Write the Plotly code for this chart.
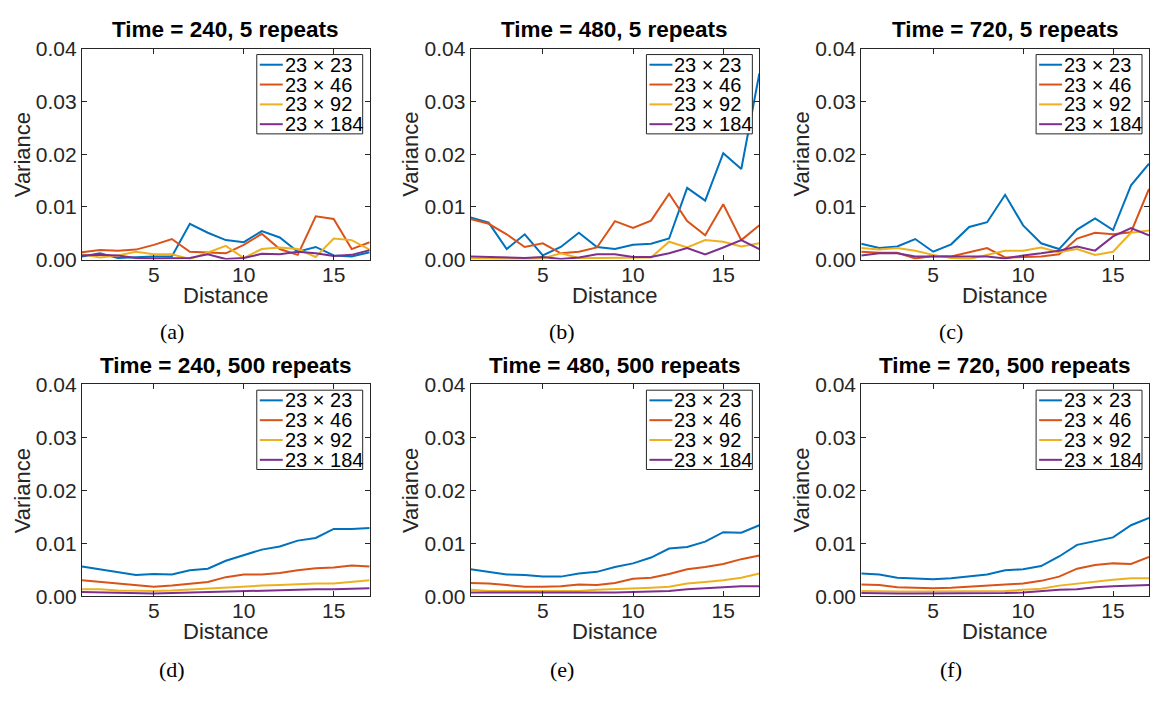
import plotly.graph_objects as go

distance = list(range(1, 18))
series_names = ["23 × 23", "23 × 46", "23 × 92", "23 × 184"]
colors = ["#0072BD", "#D95319", "#EDB120", "#7E2F8E"]
titles = ["Time = 240, 5 repeats", "Time = 480, 5 repeats", "Time = 720, 5 repeats",
          "Time = 240, 500 repeats", "Time = 480, 500 repeats", "Time = 720, 500 repeats"]
captions = ["(a)", "(b)", "(c)", "(d)", "(e)", "(f)"]
y_ticks = [0, 0.01, 0.02, 0.03, 0.04]
x_ticks = [5, 10, 15]

# Panel (a): Time 240, 5 repeats
a_23 = [0.0006, 0.0012, 0.0003, 0.0005, 0.0006, 0.0006, 0.0068, 0.0051, 0.0037, 0.0033, 0.0054, 0.0042, 0.0015, 0.0024, 0.0008, 0.0006, 0.0014]
a_46 = [0.0014, 0.0018, 0.0017, 0.0019, 0.0028, 0.0039, 0.0015, 0.0013, 0.0012, 0.0028, 0.0049, 0.0020, 0.0009, 0.0082, 0.0077, 0.0020, 0.0033]
a_92 = [0.0010, 0.0004, 0.0008, 0.0015, 0.0010, 0.0010, 0.0001, 0.0014, 0.0026, 0.0003, 0.0020, 0.0023, 0.0020, 0.0005, 0.0040, 0.0037, 0.0019]
a_184 = [0.0008, 0.0009, 0.0008, 0.0003, 0.0002, 0.0002, 0.0003, 0.0010, 0.0001, 0.0003, 0.0011, 0.0010, 0.0015, 0.0012, 0.0007, 0.0009, 0.0018]

# Panel (b): Time 480, 5 repeats
b_23 = [0.0080, 0.0070, 0.0020, 0.0048, 0.0008, 0.0024, 0.0051, 0.0024, 0.0020, 0.0028, 0.0030, 0.0040, 0.0136, 0.0112, 0.0202, 0.0172, 0.0353]
b_46 = [0.0077, 0.0068, 0.0048, 0.0024, 0.0031, 0.0012, 0.0015, 0.0023, 0.0073, 0.0060, 0.0074, 0.0125, 0.0073, 0.0046, 0.0105, 0.0037, 0.0065]
b_92 = [0.0002, 0.0001, 0.0001, 0.0001, 0.0002, 0.0012, 0.0003, 0.0003, 0.0003, 0.0003, 0.0004, 0.0034, 0.0023, 0.0037, 0.0034, 0.0025, 0.0031]
b_184 = [0.0006, 0.0005, 0.0004, 0.0003, 0.0005, 0.0001, 0.0004, 0.0010, 0.0010, 0.0005, 0.0005, 0.0012, 0.0022, 0.0010, 0.0023, 0.0037, 0.0020]

# Panel (c): Time 720, 5 repeats
c_23 = [0.0030, 0.0022, 0.0025, 0.0039, 0.0015, 0.0029, 0.0062, 0.0071, 0.0123, 0.0065, 0.0031, 0.0020, 0.0057, 0.0078, 0.0056, 0.0141, 0.0182]
c_46 = [0.0015, 0.0013, 0.0013, 0.0002, 0.0007, 0.0006, 0.0014, 0.0022, 0.0004, 0.0005, 0.0006, 0.0010, 0.0040, 0.0051, 0.0048, 0.0052, 0.0134]
c_92 = [0.0022, 0.0019, 0.0022, 0.0017, 0.0009, 0.0003, 0.0001, 0.0009, 0.0017, 0.0017, 0.0023, 0.0014, 0.0020, 0.0009, 0.0015, 0.0051, 0.0055]
c_184 = [0.0008, 0.0012, 0.0012, 0.0006, 0.0006, 0.0006, 0.0006, 0.0006, 0.0002, 0.0008, 0.0012, 0.0017, 0.0025, 0.0017, 0.0044, 0.0060, 0.0046]

# Panel (d): Time 240, 500 repeats
d_23 = [0.0056, 0.0051, 0.0045, 0.0040, 0.0042, 0.0041, 0.0049, 0.0052, 0.0067, 0.0077, 0.0088, 0.0094, 0.0105, 0.0110, 0.0127, 0.0127, 0.0129]
d_46 = [0.0030, 0.0027, 0.0023, 0.0020, 0.0018, 0.0020, 0.0023, 0.0027, 0.0036, 0.0041, 0.0041, 0.0044, 0.0049, 0.0053, 0.0054, 0.0058, 0.0056]
d_92 = [0.0013, 0.0013, 0.0011, 0.0010, 0.0010, 0.0011, 0.0013, 0.0014, 0.0016, 0.0018, 0.0020, 0.0021, 0.0023, 0.0024, 0.0024, 0.0027, 0.0030]
d_184 = [0.0008, 0.0007, 0.0007, 0.0006, 0.0005, 0.0006, 0.0007, 0.0007, 0.0009, 0.0010, 0.0010, 0.0012, 0.0013, 0.0013, 0.0013, 0.0014, 0.0015]

# Panel (e): Time 480, 500 repeats
e_23 = [0.0051, 0.0046, 0.0041, 0.0040, 0.0037, 0.0037, 0.0043, 0.0046, 0.0055, 0.0062, 0.0073, 0.0090, 0.0093, 0.0103, 0.0121, 0.0120, 0.0134]
e_46 = [0.0025, 0.0024, 0.0021, 0.0018, 0.0018, 0.0019, 0.0022, 0.0021, 0.0025, 0.0033, 0.0035, 0.0042, 0.0051, 0.0055, 0.0061, 0.0070, 0.0077]
e_92 = [0.0012, 0.0010, 0.0010, 0.0010, 0.0009, 0.0010, 0.0010, 0.0012, 0.0013, 0.0015, 0.0016, 0.0018, 0.0024, 0.0027, 0.0030, 0.0035, 0.0043]
e_184 = [0.0007, 0.0007, 0.0006, 0.0006, 0.0006, 0.0006, 0.0007, 0.0007, 0.0007, 0.0008, 0.0009, 0.0010, 0.0013, 0.0015, 0.0018, 0.0019, 0.0019]

# Panel (f): Time 720, 500 repeats
f_23 = [0.0043, 0.0041, 0.0035, 0.0034, 0.0032, 0.0034, 0.0038, 0.0041, 0.0049, 0.0051, 0.0057, 0.0075, 0.0097, 0.0104, 0.0111, 0.0134, 0.0148]
f_46 = [0.0022, 0.0021, 0.0017, 0.0016, 0.0015, 0.0016, 0.0018, 0.0020, 0.0022, 0.0024, 0.0029, 0.0037, 0.0052, 0.0059, 0.0062, 0.0061, 0.0074]
f_92 = [0.0010, 0.0009, 0.0009, 0.0009, 0.0009, 0.0009, 0.0009, 0.0009, 0.0010, 0.0012, 0.0014, 0.0020, 0.0024, 0.0027, 0.0031, 0.0034, 0.0034]
f_184 = [0.0006, 0.0005, 0.0005, 0.0005, 0.0005, 0.0005, 0.0005, 0.0005, 0.0006, 0.0007, 0.0010, 0.0012, 0.0013, 0.0017, 0.0019, 0.0020, 0.0021]

panels = [
    [a_23, a_46, a_92, a_184],
    [b_23, b_46, b_92, b_184],
    [c_23, c_46, c_92, c_184],
    [d_23, d_46, d_92, d_184],
    [e_23, e_46, e_92, e_184],
    [f_23, f_46, f_92, f_184],
]

W, H = 1150, 702
# pixel layout of each plot area: (left, right), (top, bottom)
col_px = [(82, 370), (471, 760), (862, 1150)]
row_px = [(38, 256), (385, 604)]

FONT = "Liberation Sans, Arial, Helvetica, sans-serif"
AX = "#262626"


def px(xp):
    return xp / W


def py(yp):
    return 1 - yp / H


fig = go.Figure()
annotations = []
shapes = []
layout = dict(
    width=W, height=H, margin=dict(l=0, r=0, t=0, b=0),
    paper_bgcolor="white", plot_bgcolor="white",
    font=dict(family=FONT, color=AX),
    showlegend=False,
)

for i, data in enumerate(panels):
    r, c = divmod(i, 3)
    l, rt = col_px[c]
    tp, bt = row_px[r]
    n = "" if i == 0 else str(i + 1)
    xa, ya = "x" + n, "y" + n
    for name, vals, col in zip(series_names, data, colors):
        fig.add_trace(go.Scatter(
            x=distance, y=vals, mode="lines", name=name,
            line=dict(color=col, width=2),
            xaxis=xa, yaxis=ya,
        ))
    layout["xaxis" + n] = dict(
        domain=[px(l), px(rt)], range=[1, 17], anchor=ya,
        tickvals=x_ticks, ticks="inside", ticklen=5, tickcolor=AX,
        showline=True, linecolor=AX, linewidth=1, mirror="ticks",
        showgrid=False, zeroline=False, ticklabelstandoff=-4,
        tickfont=dict(size=21, family=FONT, color=AX),
    )
    layout["yaxis" + n] = dict(
        domain=[py(bt), py(tp)], range=[0, 0.04], anchor=xa,
        tickvals=y_ticks, tickformat=".2f", ticks="inside", ticklen=5, tickcolor=AX,
        showline=True, linecolor=AX, linewidth=1, mirror="ticks",
        showgrid=False, zeroline=False,
        tickfont=dict(size=21, family=FONT, color=AX),
    )

    # legend box (MATLAB-style, tight rows)
    bx1 = rt - 7
    bx0 = bx1 - 106
    by0 = tp + 6
    by1 = by0 + 82
    shapes.append(dict(type="rect", xref="paper", yref="paper",
                       x0=px(bx0), x1=px(bx1), y0=py(by1), y1=py(by0),
                       fillcolor="white", line=dict(color=AX, width=1), layer="above"))
    for k, (name, col) in enumerate(zip(series_names, colors)):
        yc = by0 + 10.5 + 20.5 * k
        shapes.append(dict(type="line", xref="paper", yref="paper",
                           x0=px(bx0 + 3), x1=px(bx0 + 26), y0=py(yc), y1=py(yc),
                           line=dict(color=col, width=2), layer="above"))
        annotations.append(dict(text=name, x=px(bx0 + 26), y=py(yc),
                                xref="paper", yref="paper", showarrow=False,
                                xanchor="left", yanchor="middle",
                                font=dict(size=20, family=FONT, color="black")))

    cx = (l + rt) / 2
    annotations += [
        dict(text="<b>" + titles[i] + "</b>", x=px(cx), y=py(tp - 20),
             xref="paper", yref="paper", showarrow=False,
             font=dict(size=22.5, family=FONT, color="black"), xanchor="center", yanchor="middle"),
        dict(text="Variance", x=px(l - 60), y=py((tp + bt) / 2),
             xref="paper", yref="paper", showarrow=False, textangle=-90,
             font=dict(size=22, family=FONT, color=AX), xanchor="center", yanchor="middle"),
        dict(text="Distance", x=px(cx), y=py(bt + 37),
             xref="paper", yref="paper", showarrow=False,
             font=dict(size=22, family=FONT, color=AX), xanchor="center", yanchor="middle"),
        dict(text=captions[i], x=px(172 + 390 * c), y=py(330 + 350 * r),
             xref="paper", yref="paper", showarrow=False,
             font=dict(size=22, family="Liberation Serif, DejaVu Serif, serif", color="black"),
             xanchor="center", yanchor="middle"),
    ]

layout["annotations"] = annotations
layout["shapes"] = shapes
fig.update_layout(**layout)
fig.write_html("out.html")
